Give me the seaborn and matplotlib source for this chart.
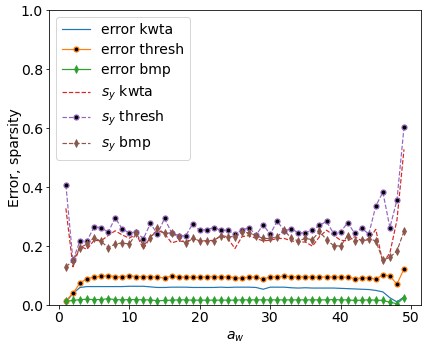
import numpy as np
import pandas as pd
import matplotlib
matplotlib.use('Agg')
import matplotlib.pyplot as plt
import seaborn as sns

# a_w values
a_w = list(range(1, 50))

err_kwta = [0.010, 0.040, 0.060, 0.063, 0.063, 0.063, 0.063, 0.063, 0.063, 0.064,
            0.064, 0.064, 0.062, 0.060, 0.060, 0.061, 0.061, 0.061, 0.060, 0.060,
            0.060, 0.060, 0.061, 0.060, 0.061, 0.061, 0.061, 0.060, 0.054, 0.061,
            0.061, 0.061, 0.059, 0.058, 0.059, 0.058, 0.058, 0.058, 0.058, 0.057,
            0.056, 0.055, 0.054, 0.053, 0.050, 0.045, 0.025, 0.011, 0.028]
err_thresh = [0.015, 0.040, 0.075, 0.090, 0.095, 0.098, 0.100, 0.097, 0.096, 0.100,
              0.097, 0.097, 0.097, 0.095, 0.092, 0.099, 0.096, 0.095, 0.095, 0.094,
              0.097, 0.097, 0.095, 0.097, 0.093, 0.092, 0.095, 0.096, 0.087, 0.097,
              0.096, 0.098, 0.097, 0.096, 0.097, 0.095, 0.095, 0.096, 0.096, 0.095,
              0.095, 0.090, 0.092, 0.093, 0.088, 0.103, 0.099, 0.071, 0.123]
err_bmp = [0.013, 0.016, 0.019, 0.020, 0.019, 0.019, 0.022, 0.019, 0.018, 0.019,
           0.019, 0.018, 0.018, 0.015, 0.016, 0.017, 0.018, 0.018, 0.017, 0.017,
           0.017, 0.017, 0.017, 0.017, 0.017, 0.018, 0.018, 0.018, 0.018, 0.018,
           0.018, 0.018, 0.018, 0.018, 0.018, 0.018, 0.018, 0.018, 0.019, 0.018,
           0.018, 0.016, 0.017, 0.018, 0.017, 0.016, 0.010, 0.005, 0.025]
sy_kwta = [0.328, 0.130, 0.200, 0.189, 0.220, 0.218, 0.236, 0.252, 0.238, 0.227,
           0.241, 0.190, 0.232, 0.254, 0.243, 0.211, 0.218, 0.214, 0.226, 0.218,
           0.218, 0.220, 0.234, 0.226, 0.192, 0.232, 0.236, 0.226, 0.218, 0.220,
           0.226, 0.226, 0.218, 0.214, 0.214, 0.200, 0.232, 0.254, 0.237, 0.220,
           0.218, 0.232, 0.218, 0.222, 0.257, 0.143, 0.177, 0.288, 0.528]
sy_thresh = [0.407, 0.152, 0.218, 0.218, 0.265, 0.263, 0.247, 0.296, 0.258, 0.245,
             0.248, 0.225, 0.277, 0.241, 0.294, 0.246, 0.235, 0.235, 0.275, 0.254,
             0.256, 0.263, 0.254, 0.254, 0.240, 0.254, 0.263, 0.237, 0.273, 0.240,
             0.285, 0.252, 0.259, 0.245, 0.245, 0.256, 0.270, 0.284, 0.243, 0.247,
             0.280, 0.243, 0.261, 0.241, 0.336, 0.383, 0.263, 0.356, 0.602]
sy_bmp = [0.130, 0.150, 0.195, 0.207, 0.229, 0.216, 0.195, 0.207, 0.211, 0.207,
          0.243, 0.203, 0.226, 0.260, 0.243, 0.245, 0.232, 0.209, 0.226, 0.218,
          0.218, 0.218, 0.236, 0.232, 0.232, 0.247, 0.245, 0.236, 0.226, 0.226,
          0.232, 0.254, 0.226, 0.218, 0.226, 0.222, 0.250, 0.222, 0.202, 0.200,
          0.236, 0.218, 0.220, 0.225, 0.218, 0.153, 0.162, 0.184, 0.250]

pal = sns.color_palette('tab10')
plt.rcParams['font.size'] = 14

fig, ax = plt.subplots(figsize=(426 / 72, 346 / 72), dpi=72)
sns.lineplot(x=a_w, y=err_kwta, ax=ax, color=pal[0], lw=1.2, label='error kwta')
sns.lineplot(x=a_w, y=err_thresh, ax=ax, color=pal[1], lw=1.2, marker='o', ms=5,
             mfc='black', mec=pal[1], mew=1.2, label='error thresh')
sns.lineplot(x=a_w, y=err_bmp, ax=ax, color=pal[2], lw=1.2, marker='d', ms=5,
             mec=pal[2], label='error bmp')
sns.lineplot(x=a_w, y=sy_kwta, ax=ax, color=pal[3], lw=1.2, ls='--', label='$s_y$ kwta')
sns.lineplot(x=a_w, y=sy_thresh, ax=ax, color=pal[4], lw=1.2, ls='--', marker='o', ms=5,
             mfc='black', mec=pal[4], mew=1.2, label='$s_y$ thresh')
sns.lineplot(x=a_w, y=sy_bmp, ax=ax, color=pal[5], lw=1.2, ls='--', marker='d', ms=5,
             mec=pal[5], label='$s_y$ bmp')

ax.set_ylim(0, 1.0)
ax.set_xlabel('$a_w$')
ax.set_ylabel('Error, sparsity', labelpad=-1)
ax.tick_params(pad=2.5)
ax.legend(loc='upper left', labelspacing=0.45)
plt.subplots_adjust(left=0.115, right=0.988, top=0.971, bottom=0.118)
plt.savefig('out.png', dpi=72)
